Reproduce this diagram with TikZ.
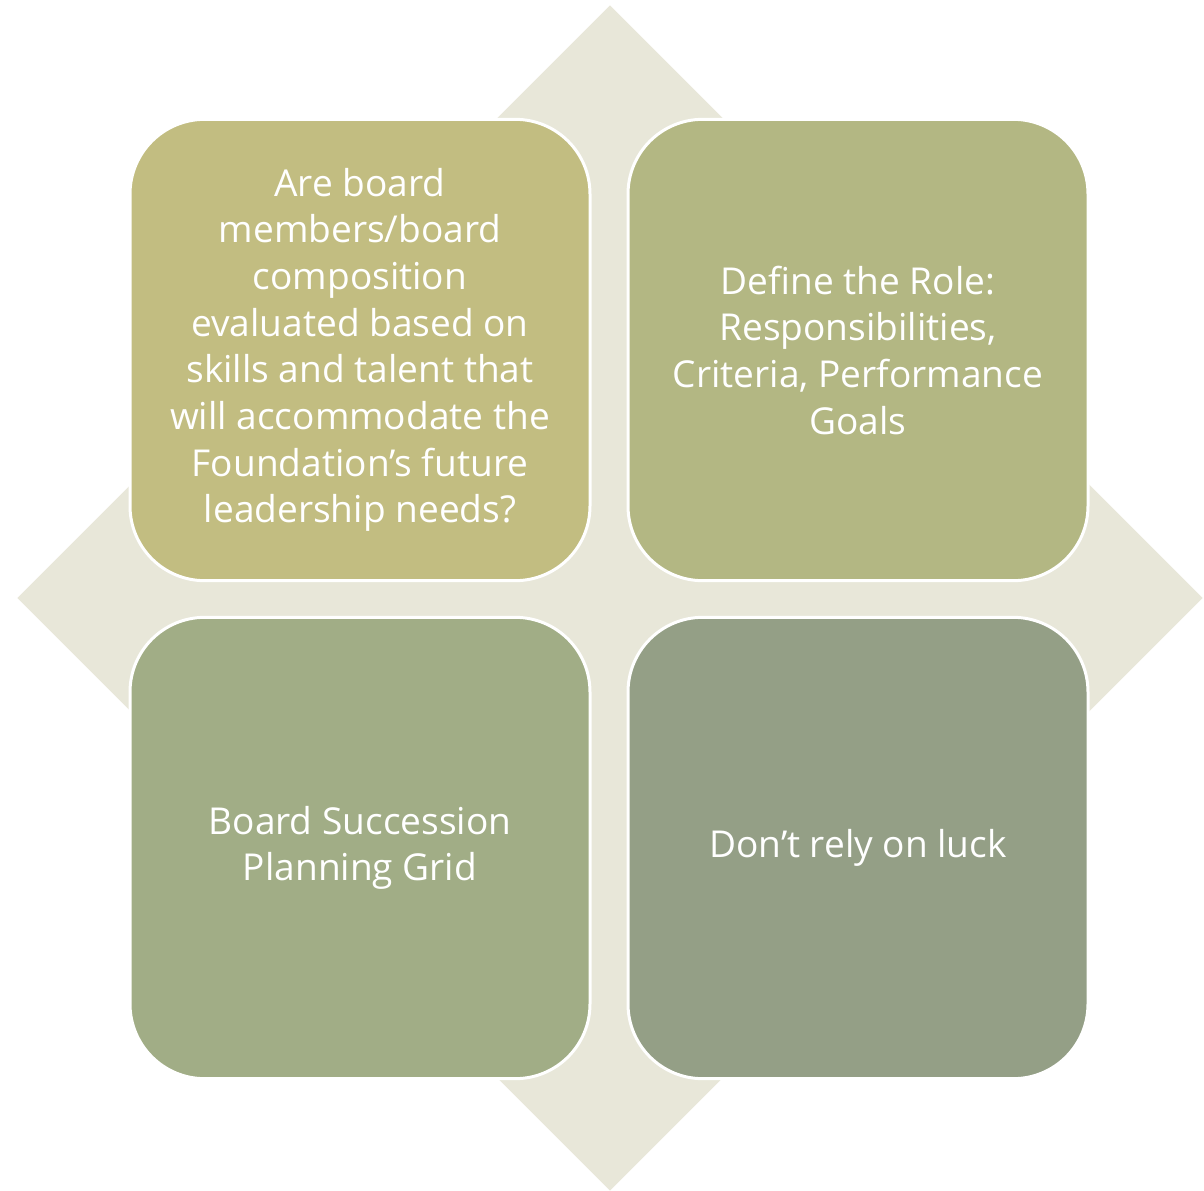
\documentclass[tikz,border=0pt]{standalone}
\usepackage{fontspec}
\setmainfont{Open Sans}
\usepackage{tikz}
\usetikzlibrary{shapes.geometric}
\definecolor{diamondbg}{HTML}{E8E7D9}
\definecolor{tileA}{HTML}{C2BD81}
\definecolor{tileB}{HTML}{B3B783}
\definecolor{tileC}{HTML}{A1AD86}
\definecolor{tileD}{HTML}{949F86}

\begin{document}
\begin{tikzpicture}[
  x=0.75pt, y=-0.75pt,
  tilebox/.style={draw=white, line width=2.25pt, rounded corners=56pt,
    minimum width=345pt, minimum height=346pt, text=white, align=center,
    font=\fontsize{27.8}{35}\selectfont, inner sep=0pt},
  ]
  \tikzset{%
    backdiamond/.style={
      diamond, fill=diamondbg, draw=none,
      minimum width=889pt, minimum height=889pt,
      inner sep=0pt,
    },
  }
  \useasboundingbox (0,0) rectangle (1204,1190);
  %Background
  \node[backdiamond](bg) at (610,598){};
  %Tiles
  \node[tilebox,fill=tileA](board) at (360,350){Are board\\members/board\\composition\\evaluated based on\\skills and talent that\\will accommodate the\\Foundation’s future\\leadership needs?};
  \node[tilebox,fill=tileB](role) at (858,350){Define the Role:\\Responsibilities,\\Criteria, Performance\\Goals};
  \node[tilebox,fill=tileC](grid) at (360,848){Board Succession\\Planning Grid};
  \node[tilebox,fill=tileD](luck) at (858,848){Don’t rely on luck};
\end{tikzpicture}
\end{document}
